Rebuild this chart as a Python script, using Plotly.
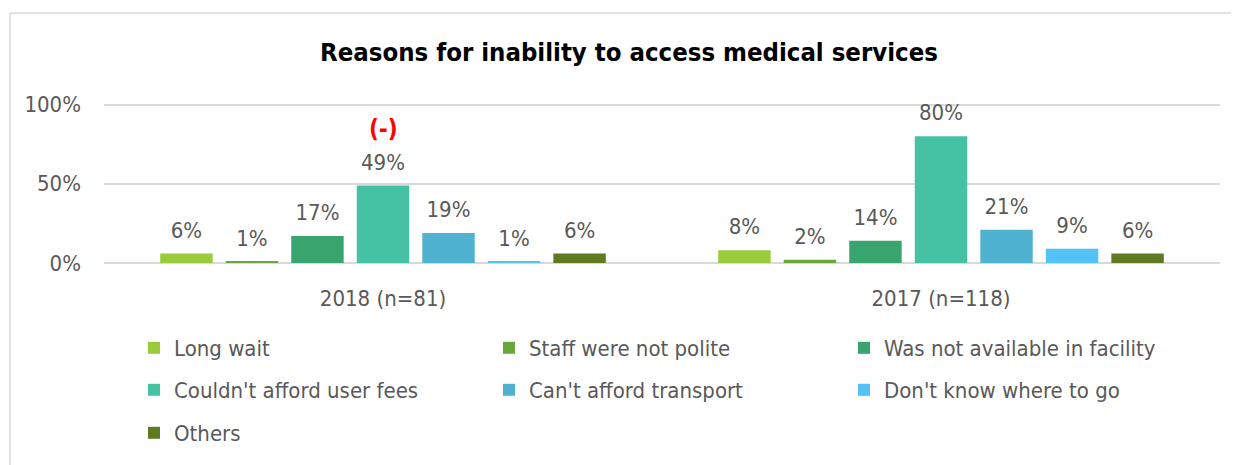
import plotly.graph_objects as go

categories = ["2018 (n=81)", "2017 (n=118)"]
series_names = ["Long wait", "Staff were not polite", "Was not available in facility",
                "Couldn't afford user fees", "Can't afford transport", "Don't know where to go", "Others"]
values_2018 = [6, 1, 17, 49, 19, 1, 6]
values_2017 = [8, 2, 14, 80, 21, 9, 6]
colors = ["#9ACB3A", "#6AA73B", "#38A56E", "#45C1A3", "#4FB2D0", "#52C2F7", "#5E7B22"]
y_ticks = [0, 50, 100]
y_tick_labels = ["0%", "50%", "100%"]

OFF = 8  # page body margin
W, H = 1239 - OFF, 465 - OFF
ML, MR, MT, MB = 104 - OFF, 19, 103 - OFF, 202
PW, PH = W - ML - MR, H - MT - MB

def px_x(px):
    return (px - OFF - ML) / PW

def px_y(py):
    return (H - MB - (py - OFF)) / PH

FONT = "DejaVu Sans Condensed, Liberation Sans Narrow, Liberation Sans, sans-serif"
GRAY = "#595959"

def f(size, color=GRAY, weight="normal"):
    return dict(size=size, color=color, family=FONT, weight=weight)

fig = go.Figure()
legend_ids = ["legend", "legend", "legend", "legend2", "legend2", "legend2", "legend3"]
for i, name in enumerate(series_names):
    vals = [values_2018[i], values_2017[i]]
    fig.add_trace(go.Bar(
        x=categories, y=vals, name=name,
        marker=dict(color=colors[i], line=dict(width=0)),
        legend=legend_ids[i], hoverinfo="x+y+name",
    ))
for i, name in enumerate(series_names):
    vals = [values_2018[i], values_2017[i]]
    fig.add_trace(go.Scatter(
        x=categories, y=vals, mode="markers+text", name=name,
        text=[f"{v}%" for v in vals], textposition="top center",
        textfont=f(22), marker=dict(size=15, color="rgba(0,0,0,0)"),
        showlegend=False, hoverinfo="skip", cliponaxis=False,
    ))

fig.add_annotation(x=categories[0], y=values_2018[3], text="<b>(-)</b>", showarrow=False,
                   yshift=56, yanchor="middle", font=f(24, "#FF0000", "bold"))

legend_common = dict(orientation="h", xanchor="left", yanchor="middle",
                     font=f(22), entrywidth=310, entrywidthmode="pixels",
                     bgcolor="rgba(0,0,0,0)")
LX = px_x(134)
fig.update_layout(
    width=W, height=H,
    margin=dict(l=ML, r=MR, t=MT, b=MB, autoexpand=False),
    paper_bgcolor="white", plot_bgcolor="white",
    barmode="group", bargap=0.178, bargroupgap=0.2,
    scattermode="group", scattergap=0.178,
    title=dict(text="<b>Reasons for inability to access medical services</b>", x=(629 - OFF) / W,
               xanchor="center", y=1 - (52 - OFF) / H, yanchor="middle", font=f(25.5, "black", "bold")),
    font=dict(family=FONT, color=GRAY),
    legend=dict(x=LX, y=px_y(348), **legend_common),
    legend2=dict(x=LX, y=px_y(390), **legend_common),
    legend3=dict(x=LX, y=px_y(433), **legend_common),
)
fig.update_yaxes(range=[0, 101], tickvals=y_ticks, ticktext=y_tick_labels, showgrid=True,
                 gridcolor="#D9D9D9", gridwidth=1.5, zeroline=True, zerolinecolor="#D9D9D9", zerolinewidth=2,
                 showline=False, tickfont=f(22), ticks="", ticklabelstandoff=22)
fig.update_xaxes(showline=False, ticks="", tickfont=f(22), ticklabelstandoff=20)

# chart frame
fig.add_shape(type="line", xref="paper", yref="paper", x0=px_x(10), x1=px_x(1239), y0=px_y(13), y1=px_y(13),
              line=dict(color="#D9D9D9", width=1.5))
fig.add_shape(type="line", xref="paper", yref="paper", x0=px_x(10), x1=px_x(10), y0=px_y(13), y1=px_y(470),
              line=dict(color="#D9D9D9", width=1.5))

fig.write_html("out.html")
